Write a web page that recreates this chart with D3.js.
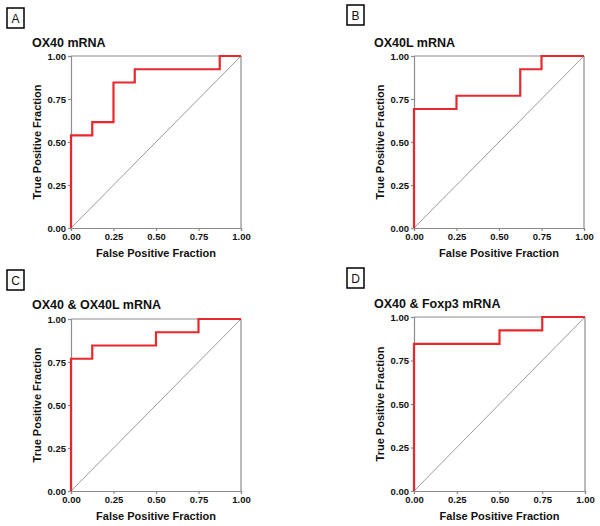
<!DOCTYPE html>
<html>
<head>
<meta charset="utf-8">
<script src="https://cdn.jsdelivr.net/npm/d3@7"></script>
<style>
  html, body { margin: 0; padding: 0; background: #fff; }
  svg { display: block; font-family: "Liberation Sans", Arial, sans-serif; }
</style>
</head>
<body>
<svg id="chart" width="600" height="526"></svg>
<script>
// ---- data ----
const panelLetters = ["A", "B", "C", "D"];
const panelTitles = ["OX40 mRNA", "OX40L mRNA", "OX40 & OX40L mRNA", "OX40 & Foxp3 mRNA"];
const tickValues = [0, 0.25, 0.5, 0.75, 1];
const xAxisTitle = "False Positive Fraction";
const yAxisTitle = "True Positive Fraction";
// ROC points (false positive fraction, true positive fraction)
const fprA = [0, 0, 0.125, 0.25, 0.375, 0.875, 1];
const tprA = [0, 0.538, 0.615, 0.846, 0.923, 1, 1];
const fprB = [0, 0, 0.25, 0.625, 0.75, 1];
const tprB = [0, 0.692, 0.769, 0.923, 1, 1];
const fprC = [0, 0, 0.125, 0.5, 0.75, 1];
const tprC = [0, 0.769, 0.846, 0.923, 1, 1];
const fprD = [0, 0, 0.5, 0.75, 1];
const tprD = [0, 0.846, 0.923, 1, 1];
const fprs = [fprA, fprB, fprC, fprD];
const tprs = [tprA, tprB, tprC, tprD];

// ---- layout ----
const layout = [
  { x: 71, y: 56, w: 170, h: 172, bx: 7, by: 8, tx: 32, ty: 47 },
  { x: 414, y: 56, w: 170, h: 172, bx: 347, by: 5, tx: 374, ty: 47 },
  { x: 71, y: 319, w: 170, h: 172, bx: 7, by: 270, tx: 32, ty: 309 },
  { x: 414, y: 317, w: 171, h: 174, bx: 347, by: 268, tx: 374, ty: 308 }
];

const svg = d3.select("#chart");
const frameColor = "#8c8c8c";
const red = "#e8282c";
const fontFam = "'Liberation Sans', Arial, sans-serif";

panelLetters.forEach((letter, i) => {
  const L = layout[i];
  // panel letter box
  const bg = svg.append("g");
  bg.append("rect").attr("x", L.bx).attr("y", L.by).attr("width", 17).attr("height", 20)
    .attr("fill", "none").attr("stroke", "#000").attr("stroke-width", 1.5);
  bg.append("text").attr("x", L.bx + 8.5).attr("y", L.by + 15)
    .attr("text-anchor", "middle").attr("font-size", 12).attr("fill", "#111").text(letter);

  // title
  svg.append("text").attr("x", L.tx).attr("y", L.ty)
    .attr("font-size", 12.5).attr("font-weight", "bold").attr("fill", "#111")
    .text(panelTitles[i]);

  const g = svg.append("g").attr("transform", `translate(${L.x},${L.y})`);
  const x = d3.scaleLinear().domain([0, 1]).range([0, L.w]);
  const y = d3.scaleLinear().domain([0, 1]).range([L.h, 0]);

  // top and right frame
  g.append("line").attr("x1", 0).attr("x2", L.w).attr("y1", 0).attr("y2", 0)
    .attr("stroke", frameColor).attr("stroke-width", 1.2);
  g.append("line").attr("x1", L.w).attr("x2", L.w).attr("y1", 0).attr("y2", L.h)
    .attr("stroke", frameColor).attr("stroke-width", 1.2);

  // axes
  const fmt = d3.format(".2f");
  const ya = g.append("g").call(d3.axisLeft(y).tickValues(tickValues).tickFormat(fmt).tickSize(3).tickPadding(2));
  const xa = g.append("g").attr("transform", `translate(0,${L.h})`)
    .call(d3.axisBottom(x).tickValues(tickValues).tickFormat(fmt).tickSize(3).tickPadding(2));
  [ya, xa].forEach(a => {
    a.select(".domain").attr("stroke", frameColor).attr("stroke-width", 1.2);
    a.selectAll(".tick line").attr("stroke", frameColor).attr("stroke-width", 1.2);
    a.selectAll(".tick text").attr("font-size", 9.5).attr("font-weight", "bold")
      .attr("fill", "#111").attr("font-family", fontFam);
  });

  // diagonal reference line
  g.append("line").attr("x1", x(0)).attr("y1", y(0)).attr("x2", x(1)).attr("y2", y(1))
    .attr("stroke", "#555").attr("stroke-width", 0.6);

  // ROC curve
  const pts = fprs[i].map((f, k) => [f, tprs[i][k]]);
  const line = d3.line().x(d => x(d[0])).y(d => y(d[1])).curve(d3.curveStepAfter);
  g.append("path").datum(pts).attr("d", line)
    .attr("fill", "none").attr("stroke", red).attr("stroke-width", 2.2)
    .attr("stroke-linejoin", "miter");

  // axis titles
  g.append("text").attr("x", L.w / 2).attr("y", L.h + 29)
    .attr("text-anchor", "middle").attr("font-size", 11).attr("font-weight", "bold")
    .attr("fill", "#111").text(xAxisTitle);
  g.append("text").attr("transform", `translate(-30,${L.h / 2}) rotate(-90)`)
    .attr("text-anchor", "middle").attr("font-size", 11).attr("font-weight", "bold")
    .attr("fill", "#111").text(yAxisTitle);
});
</script>
</body>
</html>
